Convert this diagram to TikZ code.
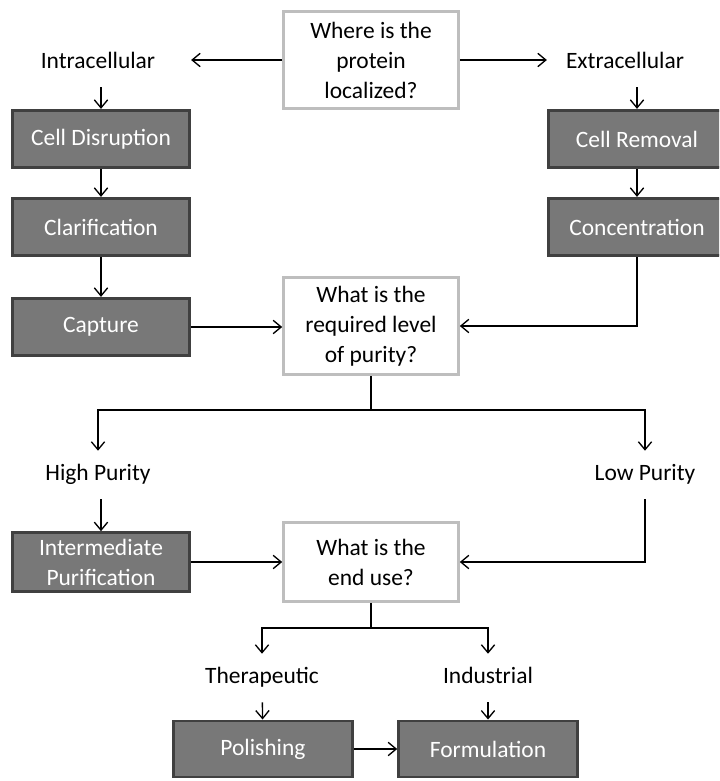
\documentclass[tikz,border=0pt]{standalone}
\usepackage{fontspec}
\setmainfont{Carlito}
\usetikzlibrary{arrows.meta}
\definecolor{boxfill}{RGB}{120,120,120}
\definecolor{boxline}{RGB}{64,64,64}
\definecolor{askline}{RGB}{190,190,190}
\tikzset{
	stepbox/.style={draw=boxline, fill=boxfill, line width=2.2pt, text=white, minimum width=133pt, minimum height=43pt, inner sep=0pt, align=center},
	askbox/.style={draw=askline, fill=white, line width=2.2pt, minimum width=131pt, minimum height=73pt, inner sep=0pt, align=center},
	tagtext/.style={text height=12.5pt, text depth=4pt, minimum height=36pt, inner sep=0pt},
	arr/.style={-{Straight Barb[length=6pt, width=10pt]}, line width=1pt}
}

\begin{document}
\begin{tikzpicture}[x=0.75pt, y=-0.75pt, font=\fontsize{17.6}{22.5}\selectfont]
			%%%%% START %%%%%
			
			\useasboundingbox (0, 0) rectangle (719, 781);
			\clip (0, 0) rectangle (719, 781);
			
			\node[askbox] (where) at (371, 60) {Where is the\\protein\\localized?};
			\node[tagtext] (intra) at (98, 63) {Intracellular};
			\node[tagtext] (extra) at (625, 63) {Extracellular};
			
			\node[stepbox] (disrupt) at (101, 139) {Cell Disruption};
			\node[stepbox] (clarify) at (101, 227) {Clarification};
			\node[stepbox] (capture) at (101, 327) {Capture};
			
			\node[stepbox] (removal) at (637, 139) {Cell Removal};
			\node[stepbox] (concen) at (637, 227) {Concentration};
			
			\node[askbox] (purity) at (371, 326) {What is the\\required level\\of purity?};
			\coordinate (split1) at (371, 410);
			
			\node[tagtext] (high) at (98, 475) {High Purity};
			\node[tagtext] (low) at (645, 475) {Low Purity};
			
			\node[stepbox, minimum height=44pt] (inter) at (101, 562) {Intermediate\\Purification};
			\node[askbox, minimum height=59pt] (enduse) at (371, 562) {What is the\\end use?};
			\coordinate (split2) at (371, 628);
			
			\node[tagtext] (thera) at (262, 678) {Therapeutic};
			\node[tagtext] (indus) at (488, 678) {Industrial};
			
			\node[stepbox, minimum height=42pt, minimum width=134pt] (polish) at (263, 749) {Polishing};
			\node[stepbox, minimum height=42pt, minimum width=134pt] (formul) at (488, 749) {Formulation};
			
			%%%%% ARROWS %%%%%
			
			\draw[arr] (where.west) -- (where.west -| disrupt.east);
			\draw[arr] (where.east) -- (where.east -| removal.west);
			
			\draw[arr] (disrupt.north |- intra.south) -- (disrupt.north);
			\draw[arr] (disrupt) -- (clarify);
			\draw[arr] (clarify) -- (capture);
			\draw[arr] (capture.east) -- (capture.east -| purity.west);
			
			\draw[arr] (removal.north |- extra.south) -- (removal.north);
			\draw[arr] (removal) -- (concen);
			\draw[arr] (concen.south) |- (purity.east);
			
			\draw[line width=1pt] (purity.south) -- (split1);
			\draw[arr] (split1) -| (high.north);
			\draw[arr] (split1) -| (low.north);
			
			\draw[arr] (inter.north |- high.south) -- (inter.north);
			\draw[arr] (inter) -- (enduse);
			\draw[arr] (low.south) |- (enduse.east);
			
			\draw[line width=1pt] (enduse.south) -- (split2);
			\draw[arr] (split2) -| (thera.north);
			\draw[arr] (split2) -| (indus.north);
			
			\draw[arr] (thera) -- (polish);
			\draw[arr] (indus) -- (formul);
			\draw[arr] (polish) -- (formul);
			
			%%%%% END %%%%%
\end{tikzpicture}
\end{document}
